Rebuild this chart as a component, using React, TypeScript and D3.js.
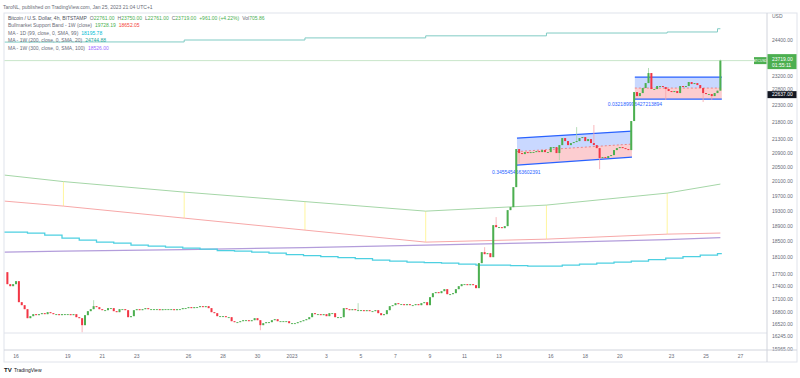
import React from "react";
import * as d3 from "d3";

const W = 800;
const H = 378;
const FONT = "'Liberation Sans', Arial, sans-serif";
const HOUR = 3600 * 1000;
const ts = (s: string) => new Date(s + ":00Z");

const headerText = "TaroNL, published on TradingView.com, Jan 25, 2023 21:04 UTC+1";

// 4h candles, BTC/USD (Bitstamp)
const candleStart = "2022-12-15T12:00";
const firstOpen = 17741;
const closes: number[] = [
  // Dec 15
  17451, 17403, 17451,
  // Dec 16
  17523, 17025, 16955, 16862, 16655, 16701,
  // Dec 17
  16747, 16724, 16747, 16770, 16747, 16793,
  // Dec 18
  16770, 16747, 16747, 16724, 16747, 16747,
  // Dec 19
  16747, 16724, 16747, 16678, 16655, 16496,
  // Dec 20
  16724, 16816, 16862, 16932, 16909, 16862,
  // Dec 21
  16839, 16839, 16886, 16886, 16816, 16793,
  // Dec 22
  16862, 16862, 16839, 16678, 16701, 16839,
  // Dec 23
  16862, 16839, 16862, 16886, 16862, 16862,
  // Dec 24
  16862, 16862, 16839, 16862, 16862, 16862,
  // Dec 25
  16862, 16839, 16862, 16862, 16886, 16886,
  // Dec 26
  16909, 16886, 16909, 16909, 16932, 16909,
  // Dec 27
  16932, 16886, 16793, 16770, 16701, 16701,
  // Dec 28
  16701, 16678, 16678, 16586, 16564, 16564,
  // Dec 29
  16586, 16609, 16609, 16586, 16609, 16655,
  // Dec 30
  16609, 16496, 16541, 16564, 16564, 16609,
  // Dec 31
  16632, 16586, 16586, 16586, 16586, 16541,
  // Jan 1
  16541, 16541, 16564, 16586, 16609, 16632,
  // Jan 2
  16678, 16770, 16747, 16747, 16724, 16747,
  // Jan 3
  16701, 16770, 16770, 16678, 16678, 16678,
  // Jan 4
  16886, 16862, 16839, 16862, 16839, 16839,
  // Jan 5
  16839, 16816, 16839, 16816, 16816, 16839,
  // Jan 6
  16770, 16724, 16747, 16839, 16932, 16955,
  // Jan 7
  17002, 16979, 16979, 16955, 16979, 16955,
  // Jan 8
  16955, 16979, 16955, 17002, 17025, 16955,
  // Jan 9
  17142, 17237, 17261, 17237, 17284, 17332,
  // Jan 10
  17213, 17213, 17237, 17332, 17403, 17451,
  // Jan 11
  17451, 17427, 17451, 17427, 17356, 17962,
  // Jan 12
  18235, 18185, 18210, 18110, 18924, 18872,
  // Jan 13
  18872, 18846, 18898, 19318, 19398, 19938,
  // Jan 14
  21007, 20892, 20863, 20920, 20892, 20920,
  // Jan 15
  20920, 20949, 20920, 20978, 20920, 20920,
  // Jan 16
  21064, 21064, 20892, 21122, 21327, 21239,
  // Jan 17
  21122, 21181, 21210, 21239, 21327, 21356,
  // Jan 18
  21239, 21297, 21181, 21122, 21035, 20749,
  // Jan 19
  20777, 20749, 20806, 20834, 20978, 21035,
  // Jan 20
  21064, 21035, 21007, 20978, 21831, 22717,
  // Jan 21
  22592, 22686, 22843, 22999, 23318, 22811,
  // Jan 22
  22811, 22906, 22906, 22874, 22811, 22749,
  // Jan 23
  22717, 22749, 22686, 22906, 22874, 22906,
  // Jan 24
  23032, 22968, 22999, 22937, 22843, 22686,
  // Jan 25
  22655, 22655, 22592, 22686, 22761, 23719,
];

const wickHighs: [string, number][] = [
  ["2022-12-20T12:00", 17072],
  ["2023-01-04T20:00", 17002],
  ["2023-01-12T04:00", 18360],
  ["2023-01-12T20:00", 19134],
  ["2023-01-17T12:00", 21650],
  ["2023-01-18T12:00", 21712],
  ["2023-01-21T16:00", 23480],
  ["2023-01-25T20:00", 23750],
];
const wickLows: [string, number][] = [
  ["2022-12-19T20:00", 16337],
  ["2022-12-30T04:00", 16382],
  ["2023-01-14T04:00", 20607],
  ["2023-01-16T12:00", 20692],
  ["2023-01-18T20:00", 20435],
  ["2023-01-22T16:00", 22470],
  ["2023-01-24T20:00", 22408],
  ["2023-01-25T08:00", 22470],
];

// Weekly indicator breakpoints
const weekTimes = [
  "2022-12-15T08:00", "2022-12-18T18:00", "2022-12-25T18:00", "2023-01-01T18:00",
  "2023-01-08T18:00", "2023-01-15T18:00", "2023-01-22T18:00", "2023-01-25T20:00",
];
const bandGreen = [20270, 20090, 19802, 19545, 19291, 19452, 19775, 20021];
const bandRed = [19559, 19425, 19107, 18795, 18488, 18564, 18692, 18720];
const ma300 = [18235, 18260, 18298, 18349, 18412, 18476, 18553, 18600];
const ma200Times = [
  "2022-12-15T08:00", "2022-12-18T18:00", "2022-12-25T18:00", "2023-01-01T18:00",
  "2023-01-08T18:00", "2023-01-15T18:00", "2023-01-22T18:00", "2023-01-25T16:00", "2023-01-25T20:00",
];
const ma200 = [24330, 24335, 24400, 24470, 24540, 24635, 24670, 24780, 24780];

// Daily MA 99 (steps start at 16:00 each day, from Dec 14)
const ma99Start = "2022-12-14T16:00";
const ma99 = [
  18743, 18743, 18718, 18666, 18590, 18539, 18488, 18463, 18412, 18387, 18361, 18336,
  18311, 18273, 18261, 18236, 18211, 18173, 18148, 18123, 18098, 18073, 18036, 18012,
  17987, 17975, 17962, 17938, 17913, 17913, 17901, 17889, 17889, 17913, 17938, 17962,
  17987, 18012, 18049, 18086, 18123, 18161, 18198,
];

// Parallel channels: [time, top price, bottom price]
const channel1: [string, number, number][] = [
  ["2023-01-14T01:00", 21327, 20550],
  ["2023-01-20T17:00", 21533, 20777],
];
const channel1Label = "0.3455454663602391";
const channel2: [string, number, number][] = [
  ["2023-01-20T21:00", 23190, 22500],
  ["2023-01-25T22:00", 23190, 22500],
];
const channel2Label = "0.032189996427213894";

const timeTicks = [
  "2022-12-16", "2022-12-19", "2022-12-21", "2022-12-23", "2022-12-26", "2022-12-28", "2022-12-30",
  "2023-01-01", "2023-01-03", "2023-01-05", "2023-01-07", "2023-01-09", "2023-01-11", "2023-01-13",
  "2023-01-16", "2023-01-18", "2023-01-20", "2023-01-23", "2023-01-25", "2023-01-27",
];
const timeTickLabels = [
  "16", "19", "21", "23", "26", "28", "30", "2023", "3", "5", "7", "9", "11", "13",
  "16", "18", "20", "23", "25", "27",
];
const priceTicks = [
  24400, 23200, 22800, 22300, 21800, 21300, 20900, 20500, 20100, 19700, 19300,
  18900, 18500, 18100, 17700, 17400, 17100, 16800, 16520, 16245, 15965,
];
const lastPrice = 23719;
const markPrice = 22637;
const countdown = "01:55:11";

const UP = "#4caf50";
const DOWN = "#f23645";

export default function App() {
  const left = 4, right = 767, top = 13, bottom = 350, outerRight = 797, outerBottom = 362;
  const x = d3.scaleUtc().domain([ts("2022-12-16T00:00"), ts("2023-01-27T00:00")]).range([16, 740.5]);
  const y = d3.scaleLog().domain([15965, 24400]).range([349, 40]);

  const start = ts(candleStart).getTime();
  const hiMap = new Map(wickHighs.map(([s, v]) => [ts(s).getTime(), v]));
  const loMap = new Map(wickLows.map(([s, v]) => [ts(s).getTime(), v]));
  const step = x(new Date(start + 4 * HOUR)) - x(new Date(start));
  const bw = step * 0.7;
  const candles = closes.map((c, i) => {
    const time = start + i * 4 * HOUR;
    const o = i === 0 ? firstOpen : closes[i - 1];
    const h = Math.max(o, c, hiMap.get(time) ?? 0);
    const l = Math.min(o, c, loMap.get(time) ?? Infinity);
    return { time: new Date(time), o, c, h, l };
  });

  const line = d3.line<[Date, number]>().x((d) => x(d[0])).y((d) => y(d[1]));
  const stepLine = d3.line<[Date, number]>().x((d) => x(d[0])).y((d) => y(d[1])).curve(d3.curveStepAfter);
  const wk = weekTimes.map(ts);
  const pts = (vals: number[], times: Date[]) => vals.map((v, i) => [times[i], v] as [Date, number]);

  const ma99Base = ts(ma99Start).getTime();
  const ma99Pts: [Date, number][] = ma99.map((v, i) => [new Date(ma99Base + i * 24 * HOUR), v]);
  ma99Pts.push([ts("2023-01-25T22:00"), ma99[ma99.length - 1]]);

  const channel = (ch: [string, number, number][], label: string, lx: number, ly: number) => {
    const x0 = x(ts(ch[0][0])), x1 = x(ts(ch[1][0]));
    const t0 = y(ch[0][1]), t1 = y(ch[1][1]);
    const b0 = y(ch[0][2]), b1 = y(ch[1][2]);
    const m0 = (t0 + b0) / 2, m1 = (t1 + b1) / 2;
    return (
      <g>
        <polygon points={`${x0},${t0} ${x1},${t1} ${x1},${m1} ${x0},${m0}`} fill="#2962ff" fillOpacity={0.25} />
        <polygon points={`${x0},${m0} ${x1},${m1} ${x1},${b1} ${x0},${b0}`} fill="#f23645" fillOpacity={0.25} />
        <line x1={x0} y1={m0} x2={x1} y2={m1} stroke="#e57373" strokeWidth={0.8} strokeDasharray="2,2" />
        <line x1={x0} y1={t0} x2={x1} y2={t1} stroke="#2962ff" strokeWidth={1.2} />
        <line x1={x0} y1={b0} x2={x1} y2={b1} stroke="#2962ff" strokeWidth={1.2} />
        <text x={x0 + lx} y={b0 + ly} fontSize={5} fill="#2962ff" fontFamily={FONT}>{label}</text>
      </g>
    );
  };

  const legendGrey = "#6a6d78";

  return (
    <svg width={W} height={H} style={{ position: "absolute", left: 0, top: 0, background: "#fff" }} fontFamily={FONT}>
      <rect x={0} y={0} width={W} height={H} fill="#fff" />
      <text x={3} y={9} fontSize={5} fill={legendGrey}>{headerText}</text>

      <defs>
        <clipPath id="plot">
          <rect x={left + 0.5} y={top} width={right - left - 0.5} height={bottom - top} />
        </clipPath>
      </defs>

      {/* frame */}
      <rect x={left} y={top} width={outerRight - left} height={outerBottom - top} fill="none" stroke="#e0e3eb" strokeWidth={1} />
      <line x1={left} x2={right} y1={333} y2={333} stroke="#e0e3eb" strokeWidth={1} />

      <g clipPath="url(#plot)">
        {/* price line */}
        <line x1={left} x2={right} y1={y(lastPrice)} y2={y(lastPrice)} stroke="#c8e6c9" strokeWidth={1} />

        {/* Bull market support band */}
        {wk.slice(1, 7).map((t, i) => (
          <line key={i} x1={x(t)} x2={x(t)} y1={y(bandGreen[i + 1])} y2={y(bandRed[i + 1])} stroke="#fff176" strokeOpacity={0.7} strokeWidth={1} />
        ))}
        <path d={line(pts(bandGreen, wk)) ?? ""} fill="none" stroke="#a5d6a7" strokeWidth={1} />
        <path d={line(pts(bandRed, wk)) ?? ""} fill="none" stroke="#f7a8a8" strokeWidth={1} />
        <path d={line(pts(ma300, wk)) ?? ""} fill="none" stroke="#b39ddb" strokeWidth={1.3} />
        <path d={stepLine(ma99Pts) ?? ""} fill="none" stroke="#4dd0e1" strokeWidth={1.3} />
        <path d={stepLine(pts(ma200, ma200Times.map(ts))) ?? ""} fill="none" stroke="#80cbc4" strokeWidth={1} />

        {channel(channel1, channel1Label, -25, 8.5)}
        {channel(channel2, channel2Label, -27, 7)}

        {/* candles */}
        {candles.map((d, i) => {
          const up = d.c >= d.o;
          const cx = x(d.time);
          const yt = y(Math.max(d.o, d.c));
          const yb = y(Math.min(d.o, d.c));
          return (
            <g key={i}>
              <line x1={cx} x2={cx} y1={y(d.h)} y2={y(d.l)} stroke={up ? "#a5d6a7" : "#f8a5ab"} strokeWidth={0.8} />
              <rect x={cx - bw / 2} y={yt} width={bw} height={Math.max(yb - yt, 0.9)} fill={up ? UP : DOWN} />
            </g>
          );
        })}
      </g>

      {/* Legend */}
      <g fontSize={5}>
        <text x={8} y={20}>
          <tspan fill="#50535e">Bitcoin / U.S. Dollar, 4h, BITSTAMP</tspan>
          <tspan dx={3} fill={legendGrey}>O</tspan><tspan fill={UP}>22761.00</tspan>
          <tspan dx={3} fill={legendGrey}>H</tspan><tspan fill={UP}>23750.00</tspan>
          <tspan dx={3} fill={legendGrey}>L</tspan><tspan fill={UP}>22761.00</tspan>
          <tspan dx={3} fill={legendGrey}>C</tspan><tspan fill={UP}>23719.00</tspan>
          <tspan dx={3} fill={UP}>+961.00 (+4.22%)</tspan>
          <tspan dx={3} fill={legendGrey}>Vol</tspan><tspan fill={UP}>705.86</tspan>
        </text>
        <text x={8} y={27.3}>
          <tspan fill={legendGrey}>Bullmarket Support Band - 1W (close)</tspan>
          <tspan dx={3} fill={UP}>19728.19</tspan>
          <tspan dx={3} fill="#f44336">18652.05</tspan>
        </text>
        <text x={8} y={34.6}>
          <tspan fill={legendGrey}>MA - 1D (99, close, 0, SMA, 99)</tspan>
          <tspan dx={3} fill="#00bcd4">18195.78</tspan>
        </text>
        <text x={8} y={42}>
          <tspan fill={legendGrey}>MA - 1W (200, close, 0, SMA, 20)</tspan>
          <tspan dx={3} fill="#26a69a">24744.88</tspan>
        </text>
        <text x={8} y={49.5}>
          <tspan fill={legendGrey}>MA - 1W (300, close, 0, SMA, 100)</tspan>
          <tspan dx={3} fill="#9e6cff">18526.00</tspan>
        </text>
      </g>

      {/* price axis */}
      <line x1={right} x2={right} y1={top} y2={outerBottom} stroke="#d1d4dc" strokeWidth={1} />
      <text x={772} y={18} fontSize={5} fill={legendGrey}>USD</text>
      {priceTicks.map((p) => (
        <text key={p} x={772} y={y(p)} dy="0.35em" fontSize={5} fill={legendGrey}>{p.toFixed(2)}</text>
      ))}
      <rect x={right + 0.5} y={y(markPrice) - 3.5} width={outerRight - right - 1} height={7} fill="#131722" />
      <text x={772} y={y(markPrice)} dy="0.35em" fontSize={5} fill="#fff">{markPrice.toFixed(2)}</text>
      <rect x={right + 0.5} y={y(lastPrice) - 6.5} width={outerRight - right - 1} height={15} fill={UP} />
      <text x={772} y={y(lastPrice) - 1.5} dy="0.35em" fontSize={5} fill="#fff">{lastPrice.toFixed(2)}</text>
      <text x={772} y={y(lastPrice) + 5} dy="0.35em" fontSize={5} fill="#fff">{countdown}</text>
      <rect x={754} y={y(lastPrice) - 3.5} width={12.5} height={7} fill={UP} />
      <text x={760.2} y={y(lastPrice)} dy="0.35em" fontSize={3.3} fill="#fff" textAnchor="middle">BTCUSD</text>

      {/* time axis */}
      <line x1={left} x2={outerRight} y1={bottom} y2={bottom} stroke="#d1d4dc" strokeWidth={1} />
      {timeTicks.map((t, i) => (
        <text key={t} x={x(ts(t + "T00:00"))} y={357.8} fontSize={5} fill={legendGrey} textAnchor="middle">{timeTickLabels[i]}</text>
      ))}

      {/* logo */}
      <text x={4} y={372} fontSize={6} fontWeight="bold" fill="#131722">TV</text>
      <text x={14} y={372} fontSize={5} fill="#131722">TradingView</text>
    </svg>
  );
}
